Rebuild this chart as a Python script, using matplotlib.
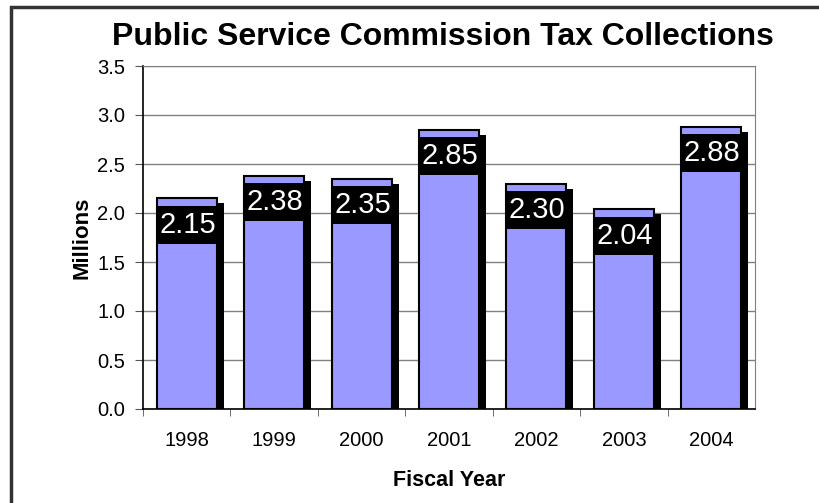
import matplotlib
matplotlib.use("Agg")
import matplotlib.pyplot as plt
from matplotlib.patches import Rectangle

plt.rcParams['font.family'] = ['Liberation Sans', 'DejaVu Sans']

years = ['1998', '1999', '2000', '2001', '2002', '2003', '2004']
values = [2.15, 2.38, 2.35, 2.85, 2.30, 2.04, 2.88]
labels = ['2.15', '2.38', '2.35', '2.85', '2.30', '2.04', '2.88']
yticks = [0.0, 0.5, 1.0, 1.5, 2.0, 2.5, 3.0, 3.5]

W, H = 819, 503
fig = plt.figure(figsize=(W / 100, H / 100), dpi=100)
ax = fig.add_axes([143 / W, 1 - 409 / H, (755 - 143) / W, (409 - 66) / H])

x = list(range(len(years)))
bw = 0.686
dx, dy = 0.08, 0.05

# shadows
ax.bar([xi + dx for xi in x], [v - dy for v in values], width=bw,
       color='black', edgecolor='none', zorder=2)
# bars
ax.bar(x, values, width=bw, color='#9999FF', edgecolor='black',
       linewidth=1.5, zorder=3)

ax.set_xlim(-0.5, len(years) - 0.5)
ax.set_ylim(0, 3.5)

texts = []
for xi, v, lab in zip(x, values, labels):
    t = ax.text(xi + 0.01, v - 0.27, lab, ha='center', va='center', color='white',
                fontsize=21, zorder=5)
    texts.append(t)

fig.canvas.draw()
renderer = fig.canvas.get_renderer()
inv = ax.transData.inverted()
for t, xi, v in zip(texts, x, values):
    bb = t.get_window_extent(renderer)
    cx, cy = ax.transData.transform((xi, v - 0.27))
    x0, y0 = inv.transform((bb.x0 - 2, cy - 19))
    x1, y1 = inv.transform((bb.x1 + 2, cy + 19))
    ax.add_patch(Rectangle((x0, y0), x1 - x0, y1 - y0, facecolor='black',
                           edgecolor='none', zorder=4))

ax.set_yticks(yticks)
ax.set_yticklabels([f'{t:.1f}' for t in yticks], fontsize=14.5)
ax.set_xticks(x)
ax.set_xticklabels(years, fontsize=14.5)
ax.tick_params(axis='x', length=0, pad=16)
ax.set_xticks([xi + 0.5 for xi in x[:-1]] + [-0.5], minor=True)
ax.tick_params(axis='x', which='minor', length=5, color='#555555')
ax.tick_params(axis='y', length=6, color='#555555', pad=7)

ax.grid(axis='y', color='#808080', linewidth=1, zorder=0)
ax.set_axisbelow(True)
for s in ['top', 'right']:
    ax.spines[s].set_color('#808080')
for s in ['left', 'bottom']:
    ax.spines[s].set_color('black')
    ax.spines[s].set_linewidth(1.2)

ax.set_ylabel('Millions', fontsize=16, fontweight='bold', labelpad=3)
ax.set_xlabel('Fiscal Year', fontsize=15.5, fontweight='bold', labelpad=14)

fig.text(443 / W, 1 - 37 / H, 'Public Service Commission Tax Collections',
         ha='center', va='center', fontsize=23, fontweight='bold')

fig.patches.append(Rectangle((11 / W, -0.2), 1.2, 1.2 - 7 / H, transform=fig.transFigure,
                             fill=False, edgecolor='#333333', linewidth=2.5))

fig.savefig('out.png', dpi=100)
